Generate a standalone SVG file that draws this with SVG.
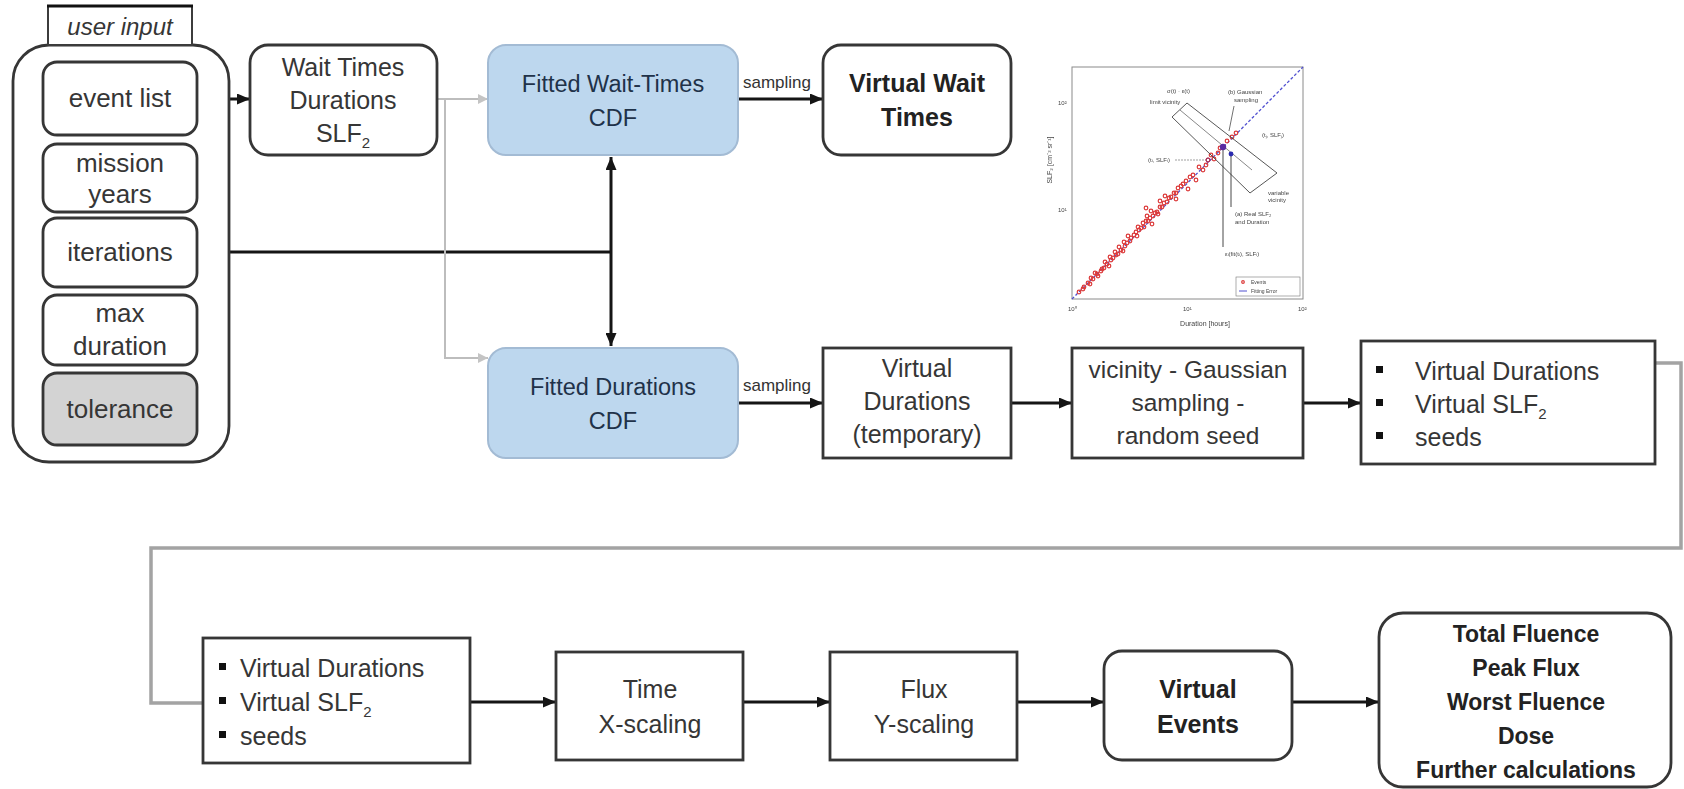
<svg xmlns="http://www.w3.org/2000/svg" width="1684" height="789" viewBox="0 0 1684 789">
  <defs>
    <style>
      .box { fill: #ffffff; stroke: #363636; stroke-width: 2.8; }
      .blue { fill: #bdd7ee; stroke: #a3bbd4; stroke-width: 2; }
      .t { font-family: "Liberation Sans", Arial, sans-serif; font-size: 25px; fill: #363636; text-anchor: middle; }
      .l { text-anchor: start; }
      .b { font-weight: bold; fill: #222222; }
      .navy { fill: #1f3249; font-size: 23.5px; }
      .small { font-size: 17px; fill: #333333; text-anchor: start; }
      .link { stroke: #151515; stroke-width: 3; fill: none; }
      .thin { stroke: #151515; stroke-width: 2.5; fill: none; }
      .gray { stroke: #bdbdbd; stroke-width: 2; fill: none; }
      .route { stroke: #a3a3a3; stroke-width: 3.5; fill: none; }
      .pt { fill: none; stroke: #dc3a3a; stroke-width: 1.2; }
      .pl { font-family: "Liberation Sans", Arial, sans-serif; font-size: 6px; fill: #444444; }
    </style>
    <marker id="ah" viewBox="0 0 13 11" refX="13" refY="5.5" markerWidth="13" markerHeight="11" orient="auto-start-reverse" markerUnits="userSpaceOnUse">
      <path d="M0,0 L13,5.5 L0,11 z" fill="#151515"/>
    </marker>
    <marker id="ahg" viewBox="0 0 10 10" refX="10" refY="5" markerWidth="10" markerHeight="10" orient="auto" markerUnits="userSpaceOnUse">
      <path d="M0,0 L10,5 L0,10 z" fill="#c4c4c4"/>
    </marker>
    <filter id="soft" x="-5%" y="-5%" width="110%" height="110%">
      <feGaussianBlur stdDeviation="0.7"/>
    </filter>
  </defs>

  <rect width="1684" height="789" fill="#ffffff"/>

  <!-- connectors -->
  <g id="connectors">
    <path class="link" d="M197,99 H250" marker-end="url(#ah)"/>
    <path class="thin" d="M197,178 H212 V330 H197"/>
    <path class="link" d="M197,252 H611"/>
    <path class="link" d="M611,157 V346" marker-start="url(#ah)" marker-end="url(#ah)"/>
    <path class="gray" d="M437,99 H488" marker-end="url(#ahg)"/>
    <path class="gray" d="M445,99 V358 H488" marker-end="url(#ahg)"/>
    <path class="link" d="M738,99 H823" marker-end="url(#ah)"/>
    <path class="link" d="M738,403 H823" marker-end="url(#ah)"/>
    <text class="t small" x="743" y="88">sampling</text>
    <text class="t small" x="743" y="391">sampling</text>
    <path class="link" d="M1011,403 H1072" marker-end="url(#ah)"/>
    <path class="link" d="M1303,403 H1361" marker-end="url(#ah)"/>
    <path class="route" d="M1655,363 H1681 V548 H151 V703 H203"/>
    <path class="link" d="M470,702 H556" marker-end="url(#ah)"/>
    <path class="link" d="M743,702 H830" marker-end="url(#ah)"/>
    <path class="link" d="M1017,702 H1104" marker-end="url(#ah)"/>
    <path class="link" d="M1292,702 H1379" marker-end="url(#ah)"/>
  </g>

  <!-- user input panel -->
  <g id="user-input">
    <rect x="13" y="45" width="216" height="417" rx="36" class="box"/>
    <rect x="48" y="6" width="144" height="39" fill="#ffffff" stroke="#3c3c3c" stroke-width="2"/>
    <line x1="47" y1="6" x2="193" y2="6" stroke="#111111" stroke-width="3"/>
    <text class="t" x="120" y="35" style="font-style:italic;font-size:24px">user input</text>
  </g>
  <g id="event-list">
    <rect x="43" y="62" width="154" height="73" rx="14" class="box"/>
    <text class="t" x="120" y="107" style="font-size:26px">event list</text>
  </g>
  <g id="mission-years">
    <rect x="43" y="144" width="154" height="68" rx="14" class="box"/>
    <text class="t" x="120" y="172" style="font-size:26px">mission</text>
    <text class="t" x="120" y="203" style="font-size:26px">years</text>
  </g>
  <g id="iterations">
    <rect x="43" y="218" width="154" height="69" rx="14" class="box"/>
    <text class="t" x="120" y="261" style="font-size:26px">iterations</text>
  </g>
  <g id="max-duration">
    <rect x="43" y="295" width="154" height="70" rx="14" class="box"/>
    <text class="t" x="120" y="322" style="font-size:26px">max</text>
    <text class="t" x="120" y="355" style="font-size:26px">duration</text>
  </g>
  <g id="tolerance">
    <rect x="43" y="373" width="154" height="72" rx="14" class="box" style="fill:#d3d3d3"/>
    <text class="t" x="120" y="418" style="font-size:26px">tolerance</text>
  </g>

  <!-- upper flow -->
  <g id="wait-times">
    <rect x="250" y="45" width="187" height="110" rx="18" class="box"/>
    <text class="t" x="343" y="76">Wait Times</text>
    <text class="t" x="343" y="109">Durations</text>
    <text class="t" x="343" y="142">SLF<tspan dy="6" style="font-size:15px">2</tspan></text>
  </g>
  <g id="fitted-wait-times">
    <rect x="488" y="45" width="250" height="110" rx="18" class="blue"/>
    <text class="t navy" x="613" y="92">Fitted Wait-Times</text>
    <text class="t navy" x="613" y="126">CDF</text>
  </g>
  <g id="virtual-wait-times">
    <rect x="823" y="45" width="188" height="110" rx="18" class="box"/>
    <text class="t b" x="917" y="92">Virtual Wait</text>
    <text class="t b" x="917" y="126">Times</text>
  </g>
  <g id="fitted-durations">
    <rect x="488" y="348" width="250" height="110" rx="18" class="blue"/>
    <text class="t navy" x="613" y="395">Fitted Durations</text>
    <text class="t navy" x="613" y="429">CDF</text>
  </g>
  <g id="virtual-durations-temp">
    <rect x="823" y="348" width="188" height="110" class="box"/>
    <text class="t" x="917" y="377">Virtual</text>
    <text class="t" x="917" y="410">Durations</text>
    <text class="t" x="917" y="443">(temporary)</text>
  </g>
  <g id="vicinity-sampling">
    <rect x="1072" y="348" width="231" height="110" class="box"/>
    <text class="t" x="1188" y="378" style="font-size:24.5px">vicinity - Gaussian</text>
    <text class="t" x="1188" y="411" style="font-size:24.5px">sampling -</text>
    <text class="t" x="1188" y="444" style="font-size:24.5px">random seed</text>
  </g>
  <g id="virtual-set-upper">
    <rect x="1361" y="341" width="294" height="123" class="box"/>
    <rect x="1376" y="366" width="7" height="7" fill="#111"/>
    <rect x="1376" y="399" width="7" height="7" fill="#111"/>
    <rect x="1376" y="432" width="7" height="7" fill="#111"/>
    <text class="t l" x="1415" y="380">Virtual Durations</text>
    <text class="t l" x="1415" y="413">Virtual SLF<tspan dy="6" style="font-size:15px">2</tspan></text>
    <text class="t l" x="1415" y="446">seeds</text>
  </g>

  <!-- embedded scatter plot -->
  <g id="scatter-plot" filter="url(#soft)">
    <rect x="1072" y="67" width="231" height="232" fill="#ffffff" stroke="#8a8a8a" stroke-width="1"/>
    <line x1="1072" y1="299" x2="1303" y2="67" stroke="#5050d0" stroke-width="1.3" stroke-dasharray="3 2"/>
    <g class="pt">
      <circle cx="1079" cy="292" r="1.8"/><circle cx="1084" cy="287" r="1.8"/><circle cx="1083" cy="289" r="1.8"/>
      <circle cx="1088" cy="283" r="1.8"/><circle cx="1090" cy="284" r="1.8"/><circle cx="1093" cy="279" r="1.8"/>
      <circle cx="1091" cy="278" r="1.8"/><circle cx="1097" cy="274" r="1.8"/><circle cx="1098" cy="276" r="1.8"/>
      <circle cx="1095" cy="273" r="1.8"/><circle cx="1102" cy="269" r="1.8"/><circle cx="1101" cy="271" r="1.8"/>
      <circle cx="1104" cy="268" r="1.8"/><circle cx="1107" cy="264" r="1.8"/><circle cx="1105" cy="262" r="1.8"/>
      <circle cx="1109" cy="266" r="1.8"/><circle cx="1111" cy="260" r="1.8"/><circle cx="1113" cy="258" r="1.8"/>
      <circle cx="1110" cy="257" r="1.8"/><circle cx="1116" cy="255" r="1.8"/><circle cx="1115" cy="252" r="1.8"/>
      <circle cx="1118" cy="254" r="1.8"/><circle cx="1121" cy="250" r="1.8"/><circle cx="1119" cy="247" r="1.8"/>
      <circle cx="1123" cy="251" r="1.8"/><circle cx="1125" cy="246" r="1.8"/><circle cx="1127" cy="243" r="1.8"/>
      <circle cx="1124" cy="242" r="1.8"/><circle cx="1130" cy="241" r="1.8"/><circle cx="1131" cy="238" r="1.8"/>
      <circle cx="1128" cy="236" r="1.8"/><circle cx="1134" cy="235" r="1.8"/><circle cx="1136" cy="232" r="1.8"/>
      <circle cx="1137" cy="236" r="1.8"/><circle cx="1139" cy="230" r="1.8"/><circle cx="1141" cy="228" r="1.8"/>
      <circle cx="1138" cy="227" r="1.8"/><circle cx="1144" cy="227" r="1.8"/><circle cx="1143" cy="223" r="1.8"/>
      <circle cx="1146" cy="221" r="1.8"/><circle cx="1148" cy="221" r="1.8"/><circle cx="1150" cy="218" r="1.8"/>
      <circle cx="1147" cy="216" r="1.8"/><circle cx="1152" cy="224" r="1.8"/><circle cx="1153" cy="216" r="1.8"/>
      <circle cx="1155" cy="213" r="1.8"/><circle cx="1151" cy="211" r="1.8"/><circle cx="1157" cy="212" r="1.8"/>
      <circle cx="1160" cy="207" r="1.8"/><circle cx="1158" cy="214" r="1.8"/><circle cx="1146" cy="208" r="1.8"/>
      <circle cx="1162" cy="207" r="1.8"/><circle cx="1164" cy="203" r="1.8"/><circle cx="1160" cy="201" r="1.8"/>
      <circle cx="1167" cy="202" r="1.8"/><circle cx="1169" cy="198" r="1.8"/><circle cx="1165" cy="196" r="1.8"/>
      <circle cx="1171" cy="197" r="1.8"/><circle cx="1174" cy="193" r="1.8"/><circle cx="1176" cy="199" r="1.8"/>
      <circle cx="1176" cy="193" r="1.8"/><circle cx="1178" cy="188" r="1.8"/><circle cx="1181" cy="186" r="1.8"/>
      <circle cx="1183" cy="184" r="1.8"/><circle cx="1186" cy="181" r="1.8"/><circle cx="1188" cy="189" r="1.8"/>
      <circle cx="1190" cy="177" r="1.8"/><circle cx="1193" cy="175" r="1.8"/><circle cx="1196" cy="180" r="1.8"/>
      <circle cx="1199" cy="167" r="1.8"/><circle cx="1203" cy="170" r="1.8"/><circle cx="1206" cy="165" r="1.8"/>
      <circle cx="1208" cy="160" r="1.8"/><circle cx="1211" cy="155" r="1.8"/><circle cx="1214" cy="159" r="1.8"/>
      <circle cx="1218" cy="153" r="1.8"/><circle cx="1220" cy="148" r="1.8"/><circle cx="1227" cy="141" r="1.8"/>
      <circle cx="1232" cy="137" r="1.8"/><circle cx="1236" cy="133" r="1.8"/>
    </g>
    <!-- vicinity window and annotations -->
    <polygon points="1172,117 1187,103 1277,173 1250,193" fill="none" stroke="#444" stroke-width="0.9"/>
    <line x1="1180" y1="110" x2="1252" y2="170" stroke="#555" stroke-width="0.7"/>
    <line x1="1223" y1="147" x2="1223" y2="247" stroke="#333" stroke-width="0.9"/>
    <line x1="1231" y1="154" x2="1231" y2="207" stroke="#333" stroke-width="0.9"/>
    <line x1="1234" y1="106" x2="1229" y2="131" stroke="#333" stroke-width="0.7"/>
    <line x1="1175" y1="160" x2="1206" y2="160" stroke="#777" stroke-width="0.7" stroke-dasharray="2 1"/>
    <circle cx="1223" cy="147" r="3.2" fill="#5a2aa0"/>
    <circle cx="1231" cy="154" r="2.4" fill="#2a2ab0"/>
    <circle cx="1208" cy="160" r="2" fill="none" stroke="#903070" stroke-width="0.9"/>
    <text class="pl" x="1150" y="104">limit vicinity</text>
    <text class="pl" x="1167" y="93">σ(t) · ε(t)</text>
    <text class="pl" x="1228" y="94">(b) Gaussian</text>
    <text class="pl" x="1234" y="102">sampling</text>
    <text class="pl" x="1262" y="137">(tⱼ, SLFⱼ)</text>
    <text class="pl" x="1148" y="162">(tᵢ, SLFᵢ)</text>
    <text class="pl" x="1268" y="195">variable</text>
    <text class="pl" x="1268" y="202">vicinity</text>
    <text class="pl" x="1235" y="216">(a) Real SLF₂</text>
    <text class="pl" x="1235" y="224">and Duration</text>
    <text class="pl" x="1225" y="256">εᵢ(fit(tᵢ), SLFᵢ)</text>
    <rect x="1236" y="277" width="64" height="19" fill="#ffffff" stroke="#777" stroke-width="0.6"/>
    <circle cx="1243" cy="282" r="1.3" class="pt"/>
    <line x1="1239" y1="291" x2="1247" y2="291" stroke="#5050d0" stroke-width="1"/>
    <text class="pl" x="1251" y="284" style="font-size:5px">Events</text>
    <text class="pl" x="1251" y="293" style="font-size:5px">Fitting Error</text>
    <text class="pl" x="1068" y="311">10⁰</text>
    <text class="pl" x="1183" y="311">10¹</text>
    <text class="pl" x="1298" y="311">10²</text>
    <text class="pl" x="1058" y="105">10²</text>
    <text class="pl" x="1058" y="212">10¹</text>
    <text class="pl" x="1205" y="326" style="font-size:7px;text-anchor:middle">Duration [hours]</text>
    <text class="pl" x="1052" y="160" style="font-size:7px;text-anchor:middle" transform="rotate(-90 1052 160)">SLF₂ [cm⁻² sr⁻¹]</text>
  </g>

  <!-- lower flow -->
  <g id="virtual-set-lower">
    <rect x="203" y="638" width="267" height="125" class="box"/>
    <rect x="219" y="663" width="7" height="7" fill="#111"/>
    <rect x="219" y="697" width="7" height="7" fill="#111"/>
    <rect x="219" y="731" width="7" height="7" fill="#111"/>
    <text class="t l" x="240" y="677">Virtual Durations</text>
    <text class="t l" x="240" y="711">Virtual SLF<tspan dy="6" style="font-size:15px">2</tspan></text>
    <text class="t l" x="240" y="745">seeds</text>
  </g>
  <g id="time-scaling">
    <rect x="556" y="652" width="187" height="108" class="box"/>
    <text class="t" x="650" y="698">Time</text>
    <text class="t" x="650" y="733">X-scaling</text>
  </g>
  <g id="flux-scaling">
    <rect x="830" y="652" width="187" height="108" class="box"/>
    <text class="t" x="924" y="698">Flux</text>
    <text class="t" x="924" y="733">Y-scaling</text>
  </g>
  <g id="virtual-events">
    <rect x="1104" y="651" width="188" height="109" rx="18" class="box"/>
    <text class="t b" x="1198" y="698">Virtual</text>
    <text class="t b" x="1198" y="733">Events</text>
  </g>
  <g id="results">
    <rect x="1379" y="613" width="292" height="174" rx="24" class="box"/>
    <text class="t b" x="1526" y="642" style="font-size:23px">Total Fluence</text>
    <text class="t b" x="1526" y="676" style="font-size:23px">Peak Flux</text>
    <text class="t b" x="1526" y="710" style="font-size:23px">Worst Fluence</text>
    <text class="t b" x="1526" y="744" style="font-size:23px">Dose</text>
    <text class="t b" x="1526" y="778" style="font-size:23px">Further calculations</text>
  </g>
</svg>
